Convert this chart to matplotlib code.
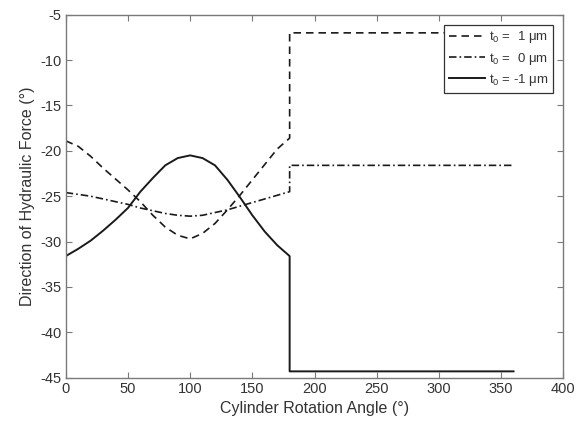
import matplotlib
matplotlib.use("Agg")
import matplotlib.pyplot as plt

plt.rcParams['font.family'] = ['Liberation Sans', 'DejaVu Sans']
plt.rcParams['mathtext.fontset'] = 'custom'
plt.rcParams['mathtext.rm'] = 'Liberation Sans'
plt.rcParams['mathtext.it'] = 'Liberation Sans:italic'
plt.rcParams['axes.unicode_minus'] = False

# angles (deg): 0..180 step 10, then jump at 180 and flat to 360
angles = [0, 10, 20, 30, 40, 50, 60, 70, 80, 90, 100, 110, 120, 130, 140, 150,
          160, 170, 180, 180, 360]

t0_pos1 = [-18.9, -19.5, -20.6, -21.9, -23.1, -24.3, -25.6, -27.1, -28.4, -29.3,
           -29.7, -29.1, -28.0, -26.5, -24.9, -23.2, -21.5, -19.8, -18.6, -7.0, -7.0]
t0_zero = [-24.6, -24.8, -25.0, -25.3, -25.6, -25.9, -26.3, -26.6, -26.9, -27.1,
           -27.2, -27.1, -26.8, -26.5, -26.1, -25.7, -25.3, -24.9, -24.5, -21.6, -21.6]
t0_neg1 = [-31.6, -30.8, -29.9, -28.8, -27.6, -26.3, -24.5, -23.0, -21.6, -20.8,
           -20.5, -20.8, -21.6, -23.2, -25.1, -27.1, -28.9, -30.4, -31.6, -44.3, -44.3]

labels = ['t$_0$ =  1 μm', 't$_0$ =  0 μm', 't$_0$ = -1 μm']
xticks = list(range(0, 401, 50))
yticks = list(range(-45, -4, 5))

fig = plt.figure(figsize=(5.87, 4.30), dpi=100)
ax = fig.add_axes([0.112, 0.1216, 0.8476, 0.8442])

c = '#1a1a1a'
ax.plot(angles, t0_pos1, linestyle=(0, (4.5, 3)), color=c, lw=1.2, label=labels[0])
ax.plot(angles, t0_zero, linestyle=(0, (4.5, 1.8, 1, 1.8)), color=c, lw=1.2, label=labels[1])
ax.plot(angles, t0_neg1, linestyle='-', color=c, lw=1.4, label=labels[2])

ax.set_xlim(0, 400)
ax.set_ylim(-45, -5)
ax.set_xticks(xticks)
ax.set_yticks(yticks)

gray = '#7a7a7a'
txt = '#333333'
for s in ax.spines.values():
    s.set_color(gray)
    s.set_linewidth(1.0)
ax.tick_params(direction='in', top=True, right=True, length=4, width=0.8,
               colors=gray, labelcolor=txt, labelsize=10.5, pad=3)

ax.set_xlabel('Cylinder Rotation Angle (°)', fontsize=11.5, color=txt, labelpad=4)
ax.set_ylabel('Direction of Hydraulic Force (°)', fontsize=11.5, color=txt, labelpad=4)

leg = ax.legend(loc='upper right', fontsize=9.5, frameon=True, fancybox=False,
                edgecolor='#333333', framealpha=1, handlelength=2.7,
                handletextpad=0.3, borderpad=0.35, labelspacing=0.4,
                borderaxespad=0, bbox_to_anchor=(0.979, 0.972))
leg.get_frame().set_linewidth(0.9)
for t in leg.get_texts():
    t.set_color(txt)

fig.savefig('out.png', dpi=100)
